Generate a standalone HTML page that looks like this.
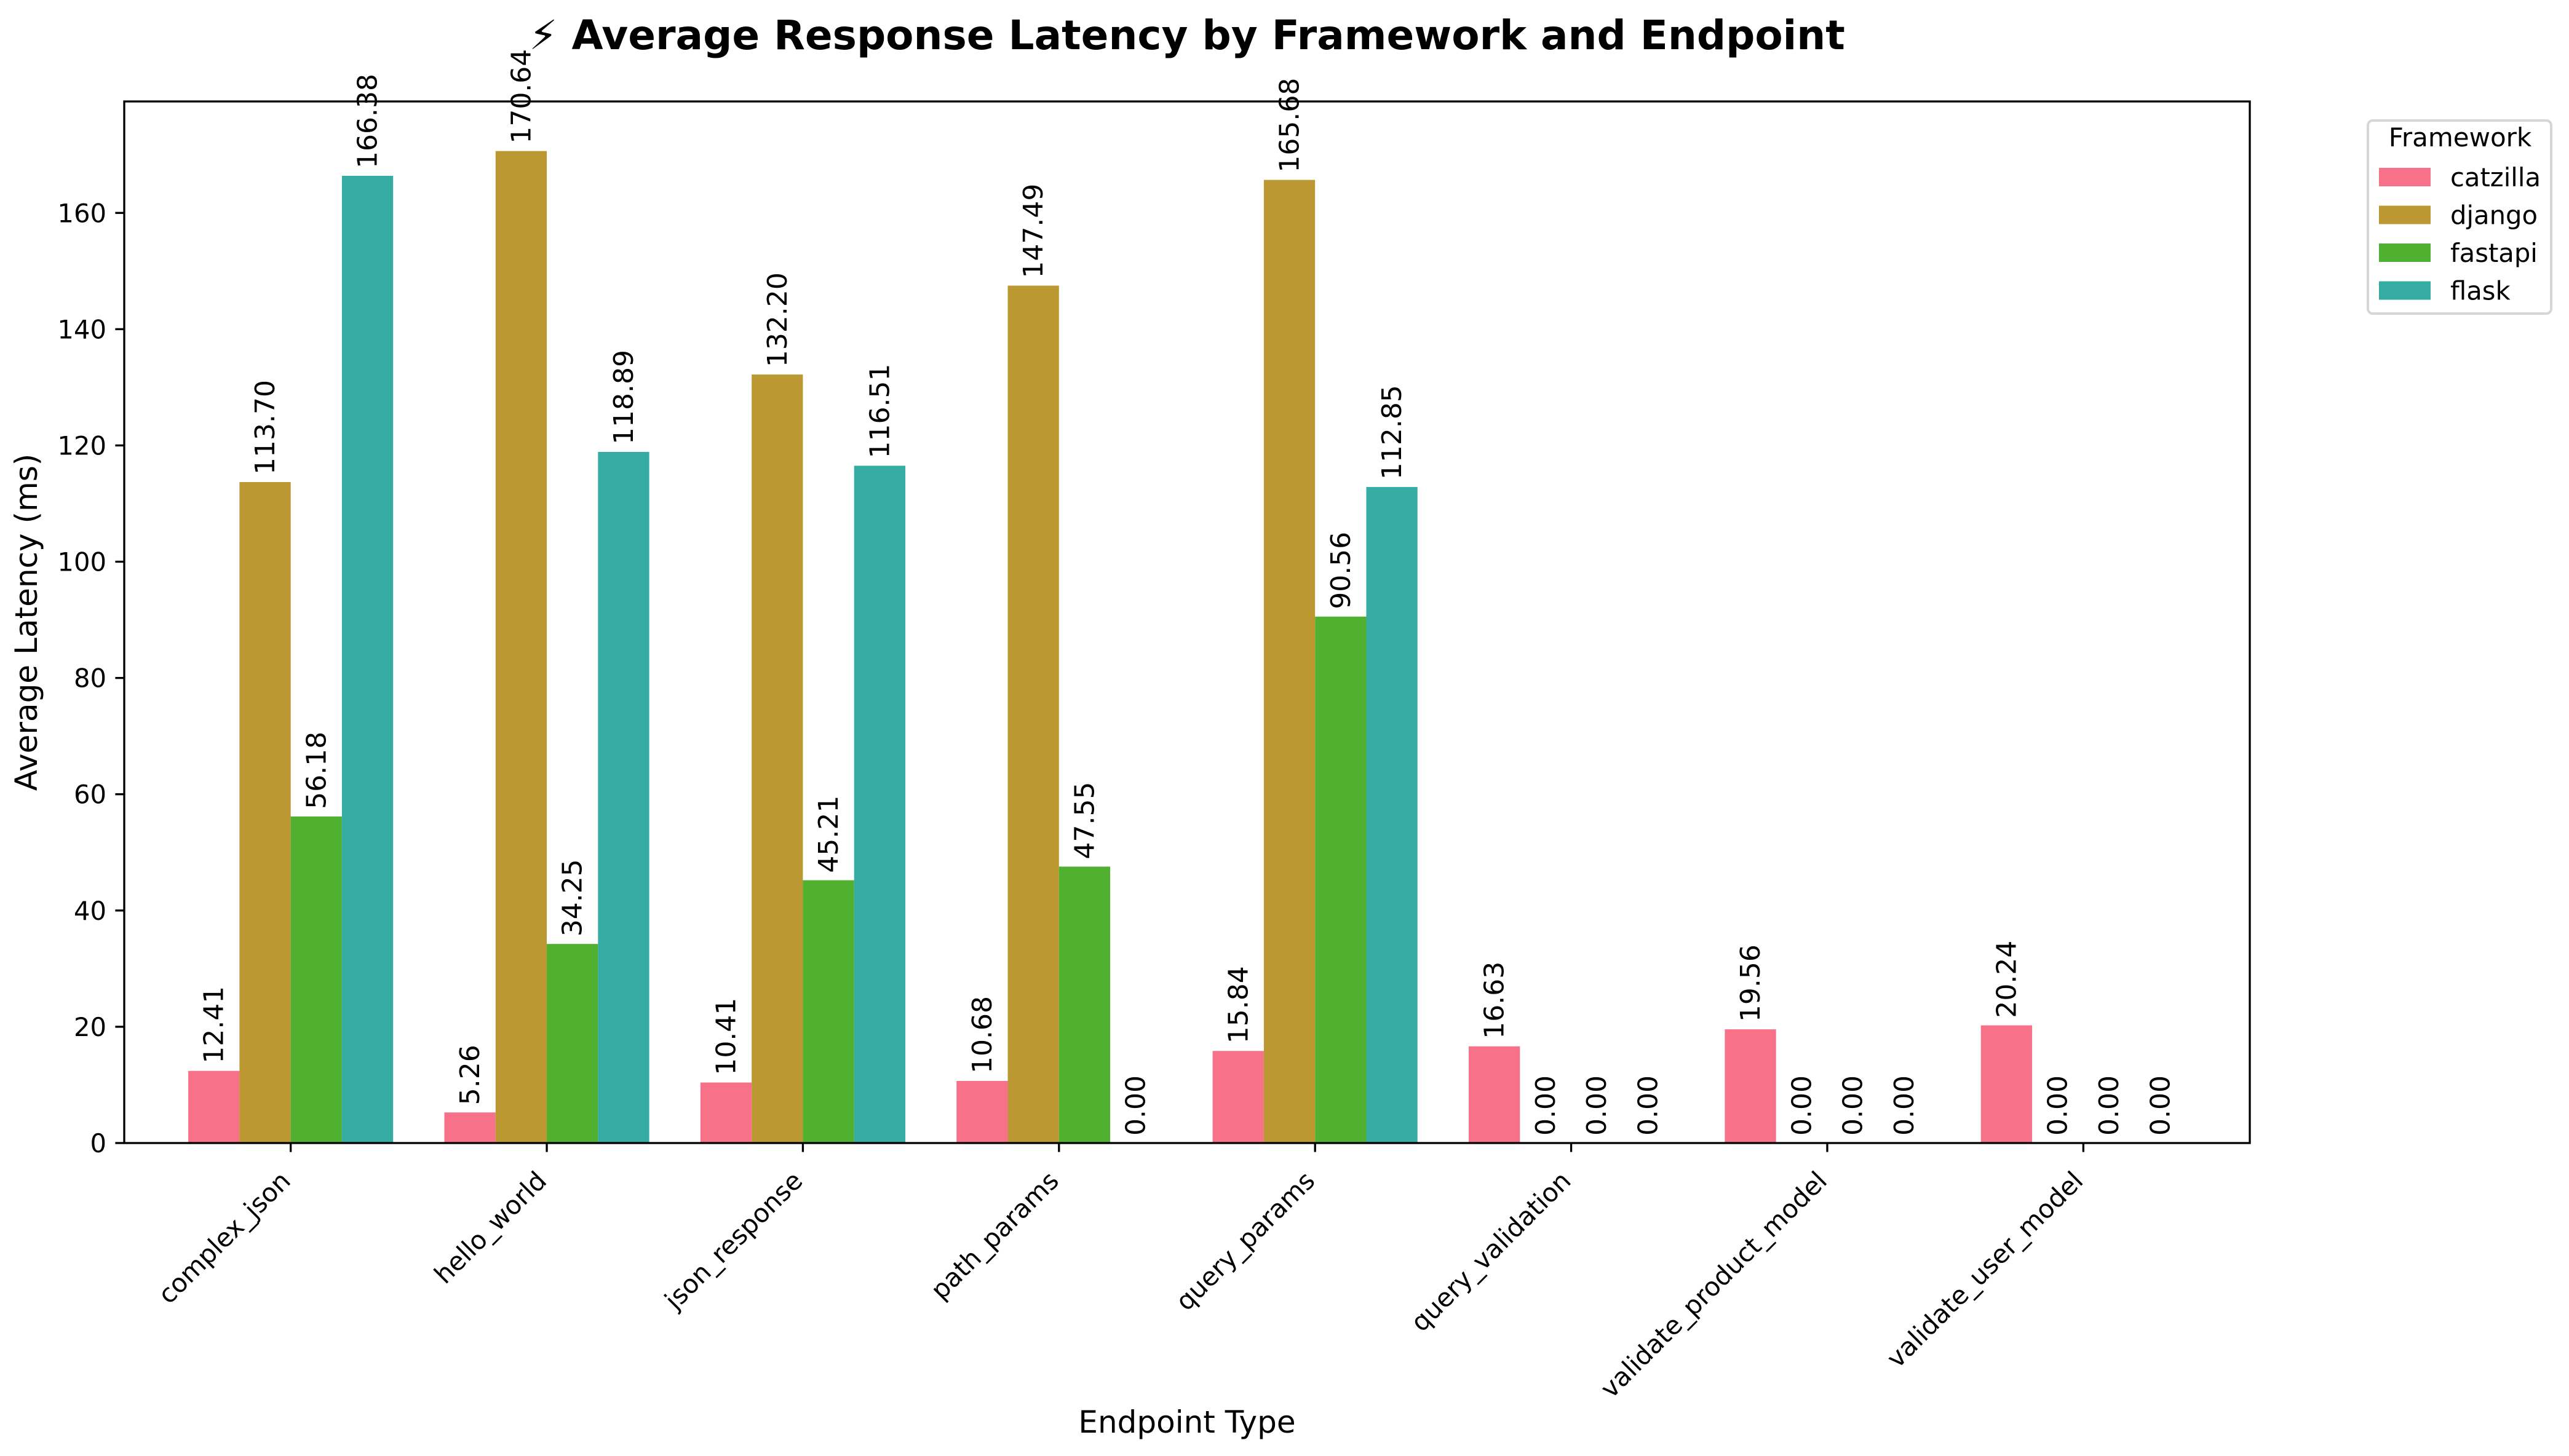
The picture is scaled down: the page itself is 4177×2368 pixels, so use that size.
<!DOCTYPE html>
<html><head><meta charset="utf-8"><style>
html,body{margin:0;padding:0;background:#fff}
svg{display:block;font-family:"DejaVu Sans","Liberation Sans",sans-serif}
</style></head><body>
<svg id="chart" width="4177" height="2368" viewBox="0 0 4177 2368" xmlns="http://www.w3.org/2000/svg">
<rect width="4177" height="2368" fill="#fff"/>
<text x="1930" y="80" text-anchor="middle" font-size="66" font-weight="bold">⚡ Average Response Latency by Framework and Endpoint</text>
<g id="plot"></g>
<text transform="translate(60,1012) rotate(-90)" text-anchor="middle" font-size="50">Average Latency (ms)</text>
<text x="1930" y="2330" text-anchor="middle" font-size="50">Endpoint Type</text>
<g>
<rect x="3850" y="196" width="298" height="314" rx="8" fill="#fff" stroke="#d6d6d6" stroke-width="4"/>
<text x="4000" y="238" text-anchor="middle" font-size="42">Framework</text>
<g id="legend-items"></g>
</g>
</svg>
<script>
const categories = ["complex_json","hello_world","json_response","path_params","query_params","query_validation","validate_product_model","validate_user_model"];
const seriesNames = ["catzilla","django","fastapi","flask"];
const catzilla = [12.41,5.26,10.41,10.68,15.84,16.63,19.56,20.24];
const django = [113.70,170.64,132.20,147.49,165.68,0.00,0.00,0.00];
const fastapi = [56.18,34.25,45.21,47.55,90.56,0.00,0.00,0.00];
const flask = [166.38,118.89,116.51,0.00,112.85,0.00,0.00,0.00];
const yTicks = [0,20,40,60,80,100,120,140,160];

const seriesValues = [catzilla, django, fastapi, flask];
const colors = ["#f77189","#bb9832","#50b131","#36ada4"];
const NS = "http://www.w3.org/2000/svg";
const L = 202, R = 3658, T = 165, B = 1859;
const xMin = -0.65, xMax = categories.length - 1 + 0.65;
const yMax = Math.max(...seriesValues.flat()) * 1.05;
const xs = v => L + (v - xMin) / (xMax - xMin) * (R - L);
const ys = v => B - v / yMax * (B - T);
const plot = document.getElementById('plot');
function mk(tag, attrs, parent) {
  const e = document.createElementNS(NS, tag);
  for (const k in attrs) e.setAttribute(k, attrs[k]);
  (parent || plot).appendChild(e);
  return e;
}
const barW = 0.2;
seriesValues.forEach((vals, si) => {
  vals.forEach((v, ci) => {
    const c = ci + (si - 1.5) * barW;
    const x0 = xs(c - barW / 2), x1 = xs(c + barW / 2);
    const r = mk('rect', {x: x0, y: ys(v), width: x1 - x0, height: ys(0) - ys(v), fill: colors[si]});
    
    
    const cx = xs(c) + 15, ty = ys(v) - 12;
    const t = mk('text', {x: cx, y: ty, 'font-size': 44, transform: `rotate(-90 ${cx} ${ty})`});
    t.textContent = v.toFixed(2);
    
    
  });
});
const frame = mk('rect', {x: L, y: T, width: R - L, height: B - T, fill: 'none', stroke: '#000', 'stroke-width': 3.3});


yTicks.forEach(v => {
  const y = ys(v);
  const tk = mk('line', {x1: L - 14.6, x2: L, y1: y, y2: y, stroke: '#000', 'stroke-width': 3.3});
  
  
  const t = mk('text', {x: L - 29, y: y + 15, 'text-anchor': 'end', 'font-size': 41.7});
  t.textContent = v;
  
  
});
categories.forEach((c, i) => {
  const x = xs(i);
  const tk = mk('line', {x1: x, x2: x, y1: B, y2: B + 14.6, stroke: '#000', 'stroke-width': 3.3});
  
  
  const ax = x + 2, ay = B + 64;
  const t = mk('text', {x: ax, y: ay, 'text-anchor': 'end', 'font-size': 41.7, transform: `rotate(-45 ${ax} ${ay})`});
  t.textContent = c;
  
  
});
const leg = document.getElementById('legend-items');
seriesNames.forEach((n, i) => {
  const y = 288 + i * 61.5;
  const sw = mk('rect', {x: 3868, y: y - 15, width: 84, height: 30, fill: colors[i]}, leg);
  
  
  const t = mk('text', {x: 3984, y: y + 15, 'font-size': 41.7}, leg);
  t.textContent = n;
  
  
});
</script>
</body></html>
